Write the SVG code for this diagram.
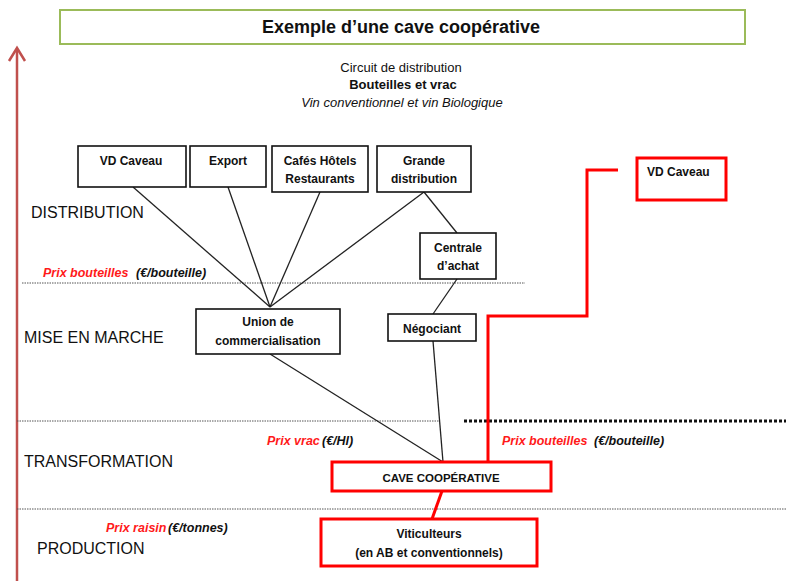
<svg xmlns="http://www.w3.org/2000/svg" width="786" height="581" viewBox="0 0 786 581">
<defs>
<style>
text{font-family:"Liberation Sans",Arial,sans-serif;fill:#111}
.box{fill:#fff;stroke:#111;stroke-width:1.6}
.rbox{fill:#fff;stroke:#ff0000;stroke-width:3}
.bl{font-size:12px;font-weight:bold;text-anchor:middle}
.ax{font-size:16px}
.sub{font-size:13px;text-anchor:middle}
.pr{font-size:12.5px;font-weight:bold;font-style:italic}
.red{fill:#ff1a1a}
.ln{stroke:#222;stroke-width:1.3;fill:none}
.rln{stroke:#ff0000;stroke-width:3;fill:none}
.dot{stroke:#555;stroke-width:1;stroke-dasharray:1.5 1;fill:none}
</style>
</defs>
<rect width="786" height="581" fill="#fff"/>
<g id="axis">
<line x1="17" y1="581" x2="17" y2="49" stroke="#c0504d" stroke-width="2.5"/>
<polyline points="9,61 17,48 25,61" fill="none" stroke="#c0504d" stroke-width="2.5" stroke-linejoin="miter"/>
</g>
<g id="title">
<rect x="60" y="10" width="685" height="34" fill="#fff" stroke="#9bbb59" stroke-width="2"/>
<text x="401" y="33" font-size="18" font-weight="bold" text-anchor="middle">Exemple d’une cave coopérative</text>
</g>
<g id="subtitle">
<text class="sub" x="401" y="72">Circuit de distribution</text>
<text class="sub" x="403" y="89" font-weight="bold">Bouteilles et vrac</text>
<text class="sub" x="402" y="107" font-style="italic">Vin conventionnel et vin Biologique</text>
</g>
<g id="separators">
<line class="dot" x1="22" y1="283" x2="525" y2="283"/>
<line class="dot" x1="17" y1="421" x2="440" y2="421"/>
<line x1="464" y1="421" x2="786" y2="421" stroke="#111" stroke-width="3" stroke-dasharray="3 2"/>
<line class="dot" x1="17" y1="509" x2="786" y2="509"/>
</g>
<g id="levels">
<text class="ax" x="31" y="218">DISTRIBUTION</text>
<text class="ax" x="24" y="343">MISE EN MARCHE</text>
<text class="ax" x="24" y="467">TRANSFORMATION</text>
<text class="ax" x="37" y="554">PRODUCTION</text>
</g>
<g id="prices">
<text class="pr" x="43" y="277"><tspan class="red">Prix bouteilles</tspan><tspan x="136">(€/bouteille)</tspan></text>
<text class="pr" x="267" y="445"><tspan class="red">Prix vrac</tspan><tspan x="322">(€/Hl)</tspan></text>
<text class="pr" x="502" y="445"><tspan class="red">Prix bouteilles</tspan><tspan x="594">(€/bouteille)</tspan></text>
<text class="pr" x="106" y="532"><tspan class="red">Prix raisin</tspan><tspan x="168">(€/tonnes)</tspan></text>
</g>
<g id="connectors">
<line class="ln" x1="133" y1="187" x2="270" y2="307"/>
<line class="ln" x1="228" y1="187" x2="270" y2="307"/>
<line class="ln" x1="320" y1="192" x2="270" y2="307"/>
<line class="ln" x1="424" y1="192" x2="270" y2="307"/>
<line class="ln" x1="424" y1="192" x2="457" y2="233"/>
<line class="ln" x1="457" y1="279" x2="433" y2="314"/>
<line class="ln" x1="433" y1="341" x2="443" y2="462"/>
<line class="ln" x1="270" y1="354" x2="443" y2="462"/>
<line class="rln" x1="442" y1="491" x2="432" y2="519"/>
<polyline class="rln" points="488,462 488,316 587,316 587,170 618,170"/>
</g>
<g id="vd-caveau">
<rect class="box" x="78" y="146" width="108" height="41"/>
<text class="bl" x="131" y="165">VD Caveau</text>
</g>
<g id="export">
<rect class="box" x="190" y="146" width="76" height="41"/>
<text class="bl" x="228" y="165">Export</text>
</g>
<g id="chr">
<rect class="box" x="272" y="146" width="96" height="46"/>
<text class="bl" x="320" y="165">Cafés Hôtels</text>
<text class="bl" x="320" y="183">Restaurants</text>
</g>
<g id="grande-distribution">
<rect class="box" x="377" y="146" width="94" height="46"/>
<text class="bl" x="424" y="165">Grande</text>
<text class="bl" x="424" y="183">distribution</text>
</g>
<g id="centrale-achat">
<rect class="box" x="420" y="233" width="76" height="46"/>
<text class="bl" x="458" y="252">Centrale</text>
<text class="bl" x="458" y="270">d’achat</text>
</g>
<g id="union">
<rect class="box" x="196" y="309" width="144" height="45"/>
<text class="bl" x="268" y="326">Union de</text>
<text class="bl" x="268" y="345">commercialisation</text>
</g>
<g id="negociant">
<rect class="box" x="388" y="314" width="88" height="27"/>
<text class="bl" x="432" y="333">Négociant</text>
</g>
<g id="vd-caveau-direct">
<rect class="rbox" x="637" y="158" width="89" height="42"/>
<text class="bl" x="647" y="176" style="text-anchor:start">VD Caveau</text>
</g>
<g id="cave-cooperative">
<rect class="rbox" x="332" y="462" width="219" height="29"/>
<text class="bl" x="441" y="482" style="font-size:11.5px">CAVE COOPÉRATIVE</text>
</g>
<g id="viticulteurs">
<rect class="rbox" x="321" y="519" width="216" height="47"/>
<text class="bl" x="429" y="538">Viticulteurs</text>
<text class="bl" x="429" y="557">(en AB et conventionnels)</text>
</g>
</svg>
